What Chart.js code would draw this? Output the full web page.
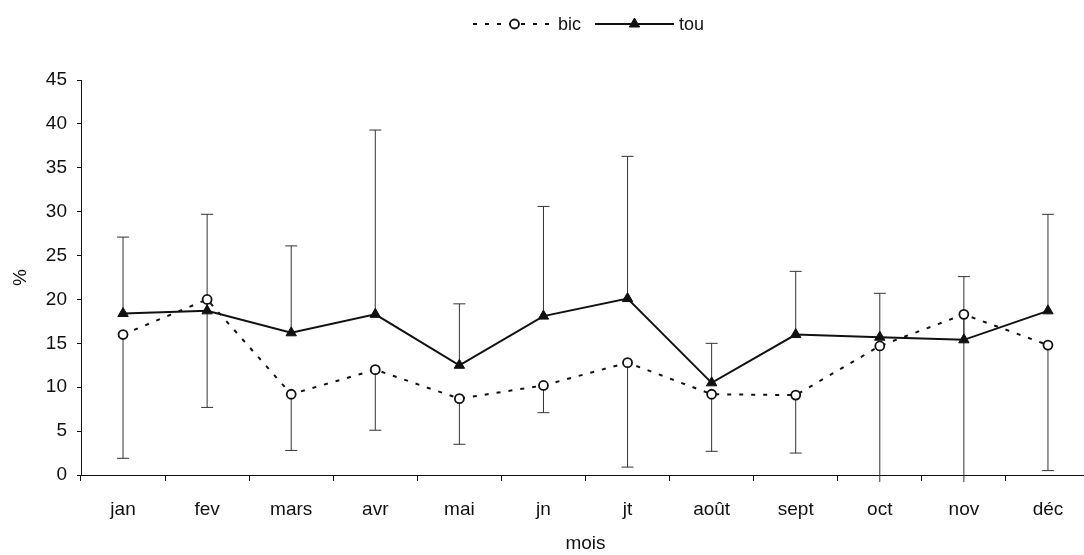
<!DOCTYPE html>
<html>
<head>
<meta charset="utf-8">
<script src="https://cdn.jsdelivr.net/npm/chart.js@4"></script>
<style>
  html, body { margin: 0; padding: 0; background: #fff; overflow: hidden; }
  #wrap { width: 1100px; height: 555px; }
</style>
</head>
<body>
<div id="wrap"><canvas id="chart" width="1100" height="555"></canvas></div>
<script>
// mois
const months = ['jan', 'fev', 'mars', 'avr', 'mai', 'jn', 'jt', 'août', 'sept', 'oct', 'nov', 'déc'];

// bic : moyenne et borne basse de la barre d'erreur
const bic = [16.0, 20.0, 9.2, 12.0, 8.7, 10.2, 12.8, 9.2, 9.1, 14.7, 18.3, 14.8];
const bicLow = [1.9, 7.7, 2.8, 5.1, 3.5, 7.1, 0.9, 2.7, 2.5, -0.8, -0.8, 0.5];

// tou : moyenne et borne haute de la barre d'erreur
const tou = [18.4, 18.7, 16.2, 18.3, 12.5, 18.1, 20.1, 10.5, 16.0, 15.7, 15.4, 18.7];
const touHigh = [27.1, 29.7, 26.1, 39.3, 19.5, 30.6, 36.3, 15.0, 23.2, 20.7, 22.6, 29.7];

const yTicks = [0, 5, 10, 15, 20, 25, 30, 35, 40, 45];

const FONT = 'Liberation Sans, Arial, sans-serif';
Chart.defaults.font.family = FONT;
Chart.defaults.color = '#111';

// barres d'erreur (bic vers le bas, tou vers le haut)
const errorBars = {
  id: 'errorBars',
  beforeDatasetsDraw(chart) {
    const { ctx, scales: { x, y } } = chart;
    const cap = 6;
    const draw = (vals, ends) => {
      vals.forEach((v, i) => {
        const px = x.getPixelForValue(i);
        const y0 = y.getPixelForValue(v);
        const y1 = y.getPixelForValue(ends[i]);
        ctx.beginPath();
        ctx.moveTo(px, y0);
        ctx.lineTo(px, y1);
        if (ends[i] >= y.min) {
          ctx.moveTo(px - cap, y1);
          ctx.lineTo(px + cap, y1);
        }
        ctx.stroke();
      });
    };
    ctx.save();
    ctx.strokeStyle = '#333';
    ctx.lineWidth = 1;
    draw(bic, bicLow);
    draw(tou, touHigh);
    ctx.restore();
  }
};

// légende façon Excel (trait + marqueur)
const legendLine = {
  id: 'legendLine',
  afterDraw(chart) {
    const { ctx } = chart;
    const cy = 24;
    const items = [
      { ds: chart.data.datasets[0], x0: 473, x1: 556, tx: 558 },
      { ds: chart.data.datasets[1], x0: 595, x1: 674, tx: 679 },
    ];
    items.forEach(it => {
      const ds = it.ds;
      ctx.save();
      ctx.strokeStyle = ds.borderColor;
      ctx.lineWidth = ds.borderWidth;
      ctx.setLineDash(ds.borderDash || []);
      ctx.beginPath();
      ctx.moveTo(it.x0, cy);
      ctx.lineTo(it.x1, cy);
      ctx.stroke();
      ctx.setLineDash([]);
      ctx.fillStyle = ds.pointBackgroundColor;
      ctx.strokeStyle = ds.pointBorderColor;
      ctx.lineWidth = ds.pointBorderWidth;
      Chart.helpers.drawPoint(ctx, {
        pointStyle: ds.pointStyle,
        radius: ds.pointRadius,
        borderWidth: ds.pointBorderWidth
      }, (it.x0 + it.x1) / 2, cy);
      ctx.fillStyle = '#111';
      ctx.font = '18px ' + FONT;
      ctx.textBaseline = 'middle';
      ctx.textAlign = 'left';
      ctx.fillText(ds.label, it.tx, cy + 1);
      ctx.restore();
    });
  }
};

new Chart(document.getElementById('chart'), {
  type: 'line',
  data: {
    labels: months,
    datasets: [
      {
        label: 'bic',
        data: bic,
        borderColor: '#111',
        borderWidth: 2,
        borderDash: [4, 8],
        pointStyle: 'circle',
        pointRadius: 4.5,
        pointBorderWidth: 1.8,
        pointBackgroundColor: '#fff',
        pointBorderColor: '#111',
        tension: 0,
      },
      {
        label: 'tou',
        data: tou,
        borderColor: '#111',
        borderWidth: 2,
        pointStyle: 'triangle',
        pointRadius: 6,
        pointBorderWidth: 1,
        pointBackgroundColor: '#111',
        pointBorderColor: '#111',
        tension: 0,
      },
    ],
  },
  options: {
    responsive: false,
    animation: false,
    layout: { padding: { top: 80, right: 10, left: 0, bottom: 0 } },
    plugins: {
      legend: { display: false },
      tooltip: { enabled: false },
    },
    scales: {
      x: {
        offset: true,
        grid: {
          offset: true,
          drawOnChartArea: false,
          drawTicks: true,
          tickLength: 6,
          color: '#111',
        },
        border: { display: true, color: '#111', width: 1 },
        ticks: { font: { size: 19 }, padding: 17, color: '#111', maxRotation: 0 },
        title: { display: true, text: 'mois', font: { size: 19 }, color: '#111', padding: { top: 2, bottom: 0 } },
        afterFit(scale) { scale.height = 80; },
      },
      y: {
        min: 0,
        max: 45,
        grid: {
          drawOnChartArea: false,
          drawTicks: true,
          tickLength: 4,
          color: '#111',
        },
        border: { display: true, color: '#111', width: 1 },
        afterBuildTicks(scale) { scale.ticks = yTicks.map(v => ({ value: v })); },
        ticks: { font: { size: 19 }, padding: 10, color: '#111' },
        title: { display: true, text: '%', font: { size: 19 }, color: '#111', padding: { top: 9, bottom: 0 } },
        afterFit(scale) { scale.width = 81; },
      },
    },
  },
  plugins: [errorBars, legendLine],
});
</script>
</body>
</html>
